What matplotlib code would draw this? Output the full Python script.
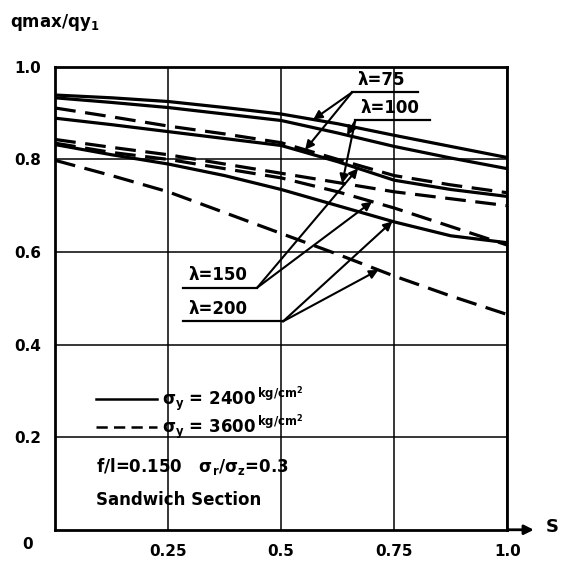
import numpy as np
import matplotlib
matplotlib.use("Agg")
import matplotlib.pyplot as plt

# values
s = [0, 0.125, 0.25, 0.375, 0.5, 0.625, 0.75, 0.875, 1.0]

solid_75 = [0.939, 0.933, 0.925, 0.912, 0.898, 0.877, 0.852, 0.828, 0.804]
solid_100 = [0.933, 0.923, 0.912, 0.898, 0.884, 0.857, 0.828, 0.803, 0.780]
solid_150 = [0.889, 0.875, 0.860, 0.845, 0.830, 0.795, 0.755, 0.735, 0.720]
solid_200 = [0.832, 0.810, 0.790, 0.765, 0.735, 0.700, 0.665, 0.635, 0.620]

dashed_75 = [0.911, 0.892, 0.872, 0.855, 0.836, 0.800, 0.765, 0.745, 0.728]
dashed_100 = [0.843, 0.826, 0.810, 0.790, 0.770, 0.750, 0.730, 0.715, 0.700]
dashed_150 = [0.835, 0.815, 0.800, 0.780, 0.760, 0.730, 0.695, 0.655, 0.615]
dashed_200 = [0.798, 0.765, 0.730, 0.685, 0.640, 0.595, 0.548, 0.505, 0.465]

x_ticks = [0.25, 0.5, 0.75, 1.0]
x_tick_labels = ["0.25", "0.5", "0.75", "1.0"]
y_ticks = [0.2, 0.4, 0.6, 0.8, 1.0]
y_tick_labels = ["0.2", "0.4", "0.6", "0.8", "1.0"]

plt.rcParams["font.family"] = "DejaVu Sans"
plt.rcParams["font.weight"] = "bold"
plt.rcParams["mathtext.default"] = "bf"

fig = plt.figure(figsize=(5.68, 5.66), dpi=100)
ax = fig.add_axes([0.097, 0.064, 0.796, 0.818])

lw = 2.3
dash = (6.5, 3.0)
for ys in (solid_75, solid_100, solid_150, solid_200):
    ax.plot(s, ys, color="black", lw=lw, solid_capstyle="butt", zorder=3)
for ys in (dashed_75, dashed_100, dashed_150, dashed_200):
    ax.plot(s, ys, color="black", lw=lw, dashes=dash, zorder=3)

ax.set_xlim(0, 1.0)
ax.set_ylim(0, 1.0)
ax.set_xticks(x_ticks)
ax.set_xticklabels(x_tick_labels)
ax.set_yticks(y_ticks)
ax.set_yticklabels(y_tick_labels)
ax.tick_params(length=0, labelsize=11, pad=10)
ax.grid(True, color="black", lw=1.1)
for sp in ax.spines.values():
    sp.set_linewidth(2.0)

ax.text(-0.06, -0.032, "0", transform=ax.transAxes, ha="center",
        va="center", fontsize=11)

# x axis arrow and label
ax.annotate("", xy=(1.065, 0), xytext=(0.995, 0), xycoords="axes fraction",
            arrowprops=dict(arrowstyle="-|>", color="black", lw=2.0,
                            mutation_scale=14), annotation_clip=False)
ax.text(1.085, 0.005, "S", transform=ax.transAxes, fontsize=13,
        ha="left", va="center")
fig.text(0.018, 0.96, "qmax/qy$_1$", fontsize=12, ha="left", va="center")


def lam_label(text, x0, x1, y, xa, targets):
    # underline, label above it, arrows from (xa, y) to the curves
    ax.plot([x0, x1], [y, y], color="black", lw=1.6, clip_on=False, zorder=4)
    ax.text(x0 + 0.012, y + 0.008, text, fontsize=12, ha="left",
            va="bottom", zorder=4)
    for xt, curve in targets:
        yt = np.interp(xt, s, curve)
        ax.annotate("", xy=(xt, yt), xytext=(xa, y),
                    arrowprops=dict(arrowstyle="-|>", color="black", lw=1.5,
                                    mutation_scale=13, shrinkA=0, shrinkB=0),
                    zorder=4)


lam_label("λ=75", 0.657, 0.803, 0.945, 0.657,
          [(0.571, solid_75), (0.553, dashed_75)])
lam_label("λ=100", 0.664, 0.83, 0.884, 0.664,
          [(0.646, solid_100), (0.635, dashed_100)])
lam_label("λ=150", 0.283, 0.447, 0.523, 0.447,
          [(0.67, solid_150), (0.701, dashed_150)])
lam_label("λ=200", 0.283, 0.504, 0.45, 0.504,
          [(0.746, solid_200), (0.715, dashed_200)])

# legend block drawn inside the plot
ax.plot([0.09, 0.226], [0.283, 0.283], color="black", lw=1.8, zorder=4)
ax.plot([0.09, 0.226], [0.222, 0.222], color="black", lw=1.8,
        dashes=(4.5, 2.5), zorder=4)
ax.text(0.237, 0.283, r"$\sigma_y$ = 2400$^{\,\rm kg/cm^2}$", fontsize=12,
        ha="left", va="center", zorder=4)
ax.text(0.237, 0.222, r"$\sigma_y$ = 3600$^{\,\rm kg/cm^2}$", fontsize=12,
        ha="left", va="center", zorder=4)
ax.text(0.09, 0.137, r"f/l=0.150   $\sigma_r/\sigma_z$=0.3", fontsize=12,
        ha="left", va="center", zorder=4)
ax.text(0.09, 0.065, "Sandwich Section", fontsize=12, ha="left",
        va="center", zorder=4)

fig.savefig("out.png", dpi=100)
